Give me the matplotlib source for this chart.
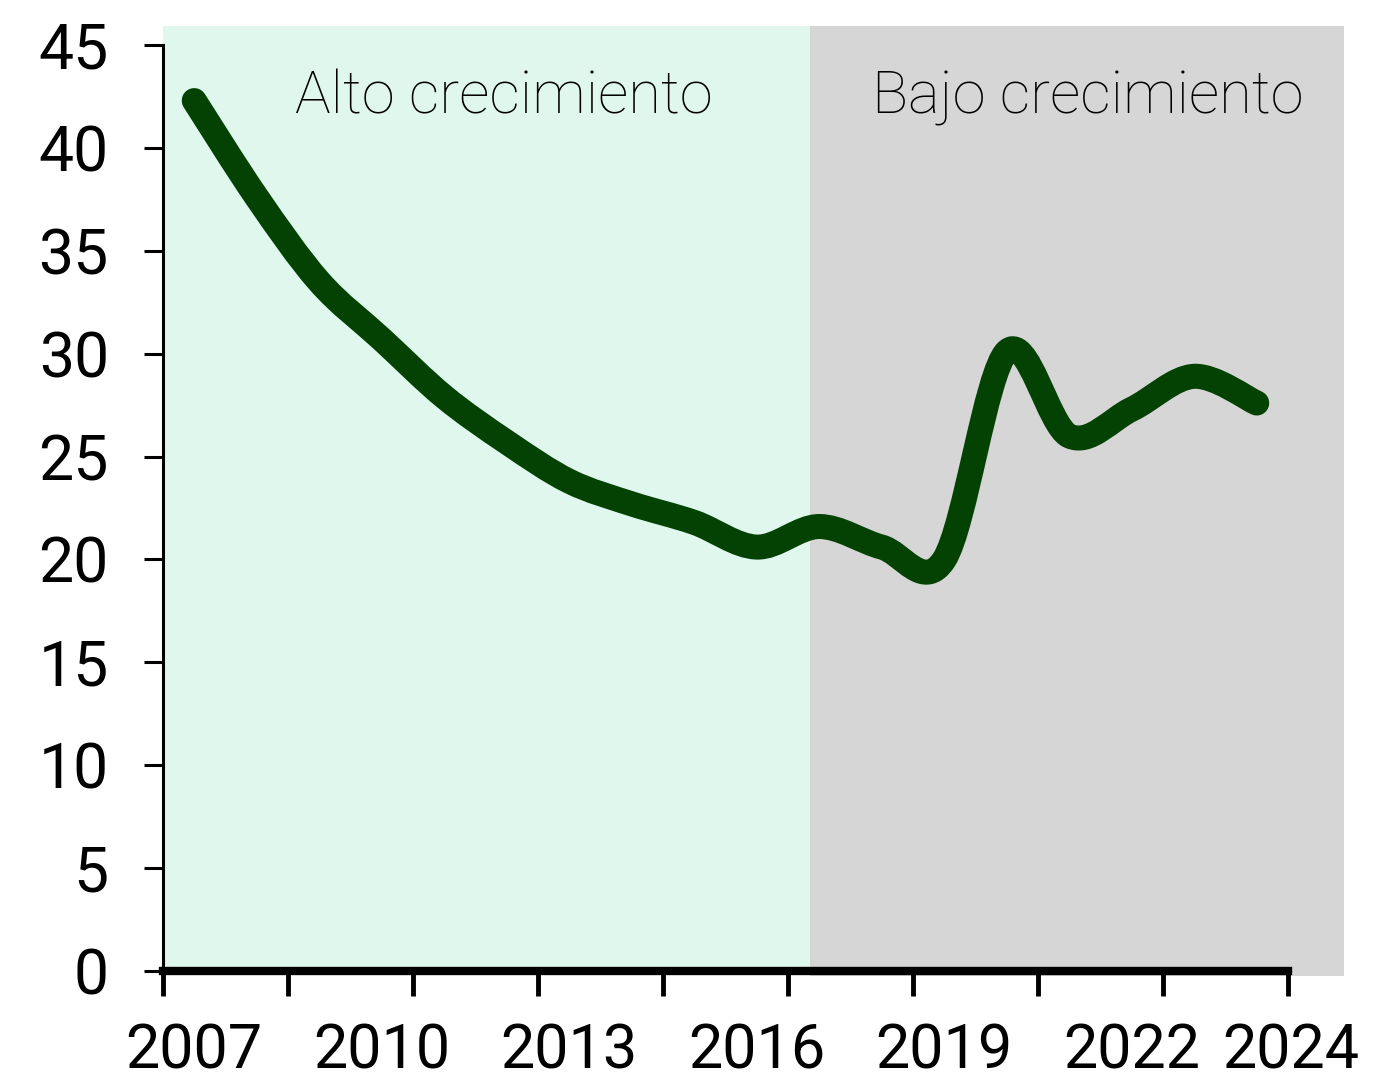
import numpy as np
import matplotlib
matplotlib.use('Agg')
import matplotlib.pyplot as plt
from matplotlib.path import Path
from matplotlib.patches import PathPatch, Rectangle

# ----------------------------------------------
# data
years = np.arange(2007, 2025)
values = [42.3, 37.6, 33.5, 30.7, 27.9, 25.7, 23.8, 22.7, 21.8, 20.6,
          21.6, 20.6, 20.0, 30.1, 26.0, 27.3, 28.9, 27.6]

label_years = [2007, 2010, 2013, 2016, 2019, 2022, 2024]
y_ticks = [0, 5, 10, 15, 20, 25, 30, 35, 40, 45]

period_names = ['Alto crecimiento', 'Bajo crecimiento']
period_start = [2006.5, 2016.85]
period_end = [2016.85, 2025.4]
period_colors = ['#e0f7ee', '#d6d6d6']

line_color = '#044204'
font = ['Roboto', 'DejaVu Sans']
plt.rcParams['font.family'] = font

# ----------------------------------------------
fig = plt.figure(figsize=(13.73, 10.79), dpi=100)
ax = fig.add_axes([0.1187, 0.1001, 0.8194, 0.8582])
ax.set_xlim(2006.5, 2024.5)
ax.set_ylim(0, 45)

# shaded periods (they run past the axes a little, like the original)
for i in range(len(period_names)):
    bottom = 0 if i == 0 else -0.25
    rect = Rectangle((period_start[i], bottom), period_end[i] - period_start[i],
                     45.9 - bottom, facecolor=period_colors[i], edgecolor='none',
                     zorder=0, clip_on=False)
    ax.add_patch(rect)
ax.text(2011.95, 41.65, period_names[0], ha='center', va='baseline', fontsize=43,
        fontweight='light', zorder=3)
ax.text(2021.3, 41.65, period_names[1], ha='center', va='baseline', fontsize=43,
        fontweight='light', zorder=3)

# smooth line through the points (Catmull-Rom as cubic Bezier segments)
pts = np.column_stack([years, values]).astype(float)
ext = np.vstack([pts[0], pts, pts[-1]])
verts = [tuple(pts[0])]
codes = [Path.MOVETO]
for i in range(len(pts) - 1):
    p0, p1, p2, p3 = ext[i], ext[i + 1], ext[i + 2], ext[i + 3]
    c1 = p1 + (p2 - p0) / 6
    c2 = p2 - (p3 - p1) / 6
    verts += [tuple(c1), tuple(c2), tuple(p2)]
    codes += [Path.CURVE4, Path.CURVE4, Path.CURVE4]
patch = PathPatch(Path(verts, codes), facecolor='none', edgecolor=line_color,
                  linewidth=18, capstyle='round', joinstyle='round', zorder=4)
ax.add_patch(patch)

# axes styling
for s in ['top', 'right']:
    ax.spines[s].set_visible(False)
ax.spines['left'].set_linewidth(2.2)
ax.spines['bottom'].set_linewidth(6)
ax.spines['bottom'].set_capstyle('projecting')
ax.spines['left'].set_zorder(5)
ax.spines['bottom'].set_zorder(5)

ax.set_yticks(y_ticks)
ax.set_yticklabels([str(v) for v in y_ticks])
ax.tick_params(axis='y', length=14, width=2.2, pad=25, labelsize=45)

ax.set_xticks(np.arange(2006.5, 2025, 2))
ax.set_xticklabels([])
ax.tick_params(axis='x', length=18, width=3.5)

# year labels under the axis, last one pushed to the end of the axis
for yr in label_years:
    xpos = yr if yr != 2024 else 2024.55
    ax.text(xpos, -4.75, str(yr), ha='center', va='baseline', fontsize=44,
            clip_on=False)

fig.savefig('out.png', dpi=100)
